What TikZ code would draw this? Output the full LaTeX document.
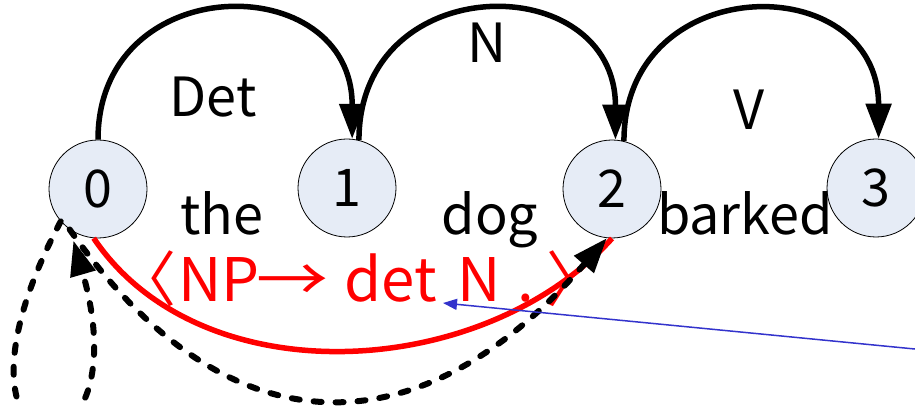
\documentclass[tikz,border=0pt]{standalone}
\usepackage{fontspec}
\usepackage{graphicx}
\setmainfont{Noto Sans CJK JP}
\usetikzlibrary{arrows.meta,positioning}
\definecolor{statefill}{RGB}{230,236,246}
\definecolor{edgered}{RGB}{255,0,0}
\definecolor{pointblue}{RGB}{51,51,204}

\begin{document}
\begin{tikzpicture}[x=1pt,y=1pt,
   st/.style={circle,draw=black,line width=0.8pt,fill=statefill,minimum size=98pt,inner sep=0pt,font=\fontsize{52}{56}\selectfont},
   arc/.style={line width=5.5pt,-{Triangle[length=35pt,width=25pt]}},
   dotarc/.style={line width=6pt,line cap=round,dash pattern=on 8pt off 14pt,-{Triangle[length=35pt,width=25pt]}},
   lbl/.style={font=\fontsize{54}{60}\selectfont,inner sep=0pt}]
  \useasboundingbox (0,0) rectangle (915,406);
  \clip (0,0) rectangle (915,406);
  % states of the chart
  \node[st] (s0) at (98,217) {0};
  \node[st] (s1) at (347,218) {1};
  \node[st] (s2) at (612,217) {2};
  \node[st] (s3) at (876,218) {3};
  % word edges
  \draw[arc] (s0.north) to[out=90,in=90,looseness=1.72] (s1.84);
  \draw[arc] (s1.76) to[out=90,in=90,looseness=1.72] (s2.86);
  \draw[arc] (s2.76) to[out=90,in=90,looseness=1.72] (s3.87);
  \node[lbl,anchor=base] (ldet) at (213,289) {Det};
  \node[lbl,anchor=base] (ln) at (487,343) {N};
  \node[lbl,anchor=base] (lv) at (749,276) {V};
  \node[lbl,anchor=base] (wthe) at (222,171) {the};
  \node[lbl,anchor=base] (wdog) at (490,171) {dog};
  \node[lbl,anchor=base] (wbarked) at (745,171) {barked};
  % dotted rule
  \node[lbl,anchor=base west,text=edgered,font=\fontsize{60}{64}\selectfont] (rule) at (116,104)
     {\makebox[62pt][l]{〈}\makebox[78pt][l]{NP}\makebox[88pt][l]{\scalebox{1.2}[1]{→}}%
      \makebox[113pt][l]{det}\makebox[60pt][l]{N}\makebox[29pt][l]{.}〉};
  \draw[edgered,line width=5.5pt] (s0.265) to[out=-56,in=-132,out distance=192,in distance=192] (s2.270);
  \draw[dotarc] (s0.235) to[out=-55,in=-131,out distance=280,in distance=280] (s2.264);
  \draw[dotarc,shorten >=11pt] (s0.221) to[out=-118,in=-74,out distance=300,in distance=275] (s0.236);
  % pointer to the dot
  \coordinate (bsrc) at (925,56);
  \coordinate (btip) at (443,103);
  \draw[pointblue,line width=1.5pt,-{Triangle[length=14pt,width=11pt]}] (bsrc) -- (btip);
\end{tikzpicture}
\end{document}
